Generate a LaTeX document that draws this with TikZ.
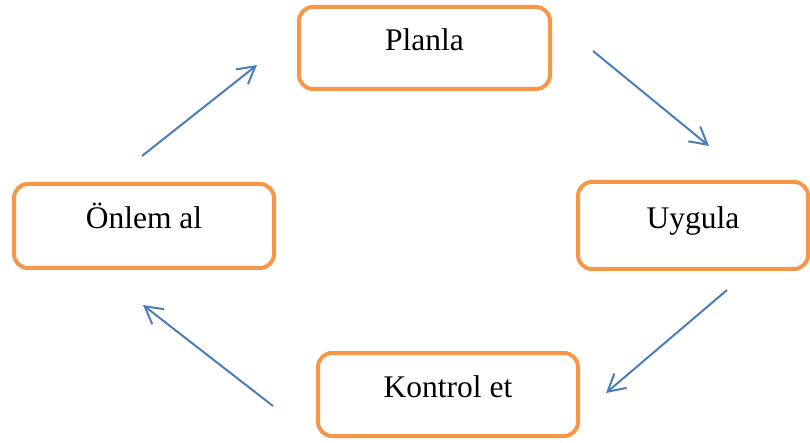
\documentclass[tikz,border=0pt]{standalone}
\usepackage{fontspec}
\setmainfont{Liberation Serif}
\usetikzlibrary{arrows.meta}
\definecolor{boxorange}{HTML}{F79646}
\definecolor{arrowblue}{HTML}{4A7EBB}
\begin{document}
\begin{tikzpicture}[x=1pt,y=-1pt,
  stagebox/.style={draw=boxorange,line width=4pt,rounded corners=14pt,fill=white,
    font=\fontsize{31.5}{36}\selectfont,text height=14pt,text depth=8pt,
    inner sep=0pt,align=center},
  flow/.style={draw=arrowblue,line width=2pt,
    -{Straight Barb[length=17pt,width=19pt,line width=2pt]}}]
\useasboundingbox (0,0) rectangle (810,443);
\node[stagebox,minimum width=251pt,minimum height=82pt] (plan) at (424.5,48) {Planla};
\node[stagebox,minimum width=230pt,minimum height=87pt] (uyg) at (693,225.5) {Uygula};
\node[stagebox,minimum width=260pt,minimum height=83pt] (kont) at (448,394.5) {Kontrol et};
\node[stagebox,minimum width=260pt,minimum height=84pt] (onl) at (144,226) {Önlem al};
\coordinate (a1s) at (593,51);  \coordinate (a1e) at (709,146);
\coordinate (a2s) at (727,290); \coordinate (a2e) at (606,393);
\coordinate (a3s) at (273,406); \coordinate (a3e) at (143,305);
\coordinate (a4s) at (142,156); \coordinate (a4e) at (257,65);
\draw[flow] (a1s) -- (a1e);
\draw[flow] (a2s) -- (a2e);
\draw[flow] (a3s) -- (a3e);
\draw[flow] (a4s) -- (a4e);
\end{tikzpicture}
\end{document}
